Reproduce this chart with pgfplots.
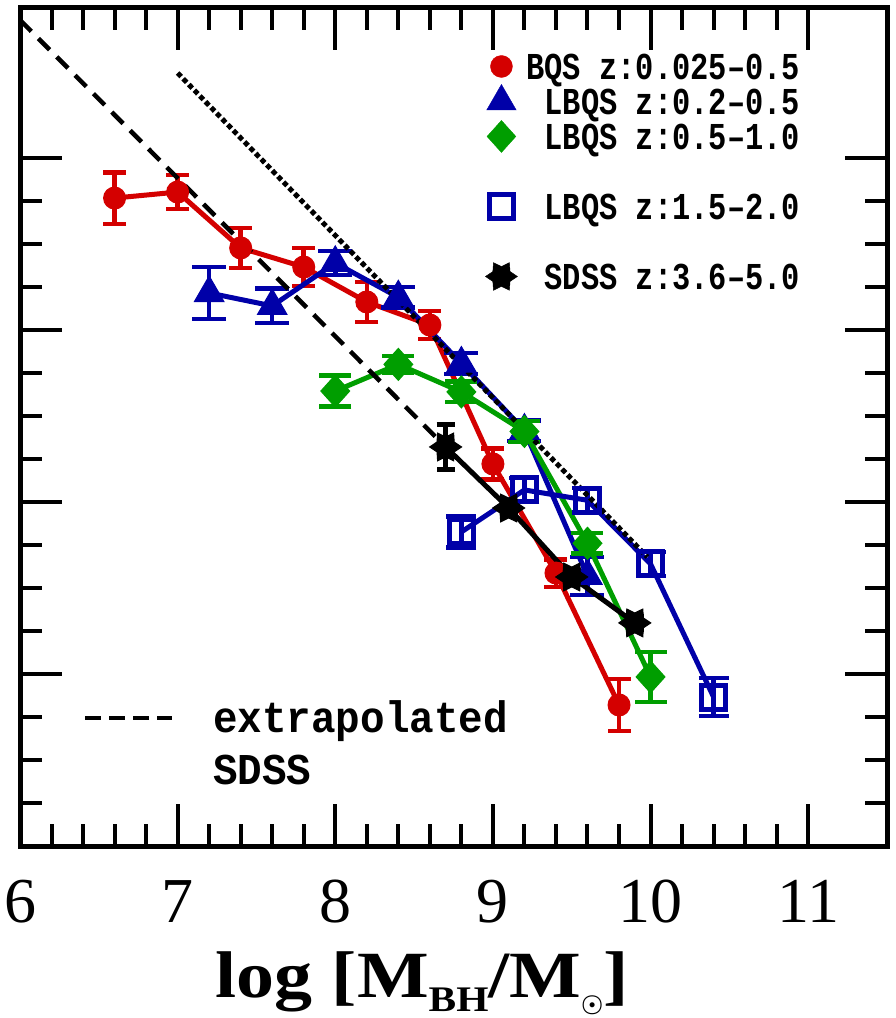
\documentclass[border=0pt]{standalone}
\usepackage{fontspec}
\setmainfont{Liberation Serif}
\newfontfamily\legfont[FakeStretch=0.8]{Liberation Mono}
\newfontfamily\extfont[FakeStretch=0.93]{Liberation Mono}
\newfontfamily\labfont[FakeStretch=1.15]{Liberation Serif}
\usepackage{pgfplots}
\pgfplotsset{compat=1.18}
\usetikzlibrary{plotmarks}

\definecolor{cred}{RGB}{212,0,0}
\definecolor{cblue}{RGB}{0,0,168}
\definecolor{cgreen}{RGB}{0,158,0}

\pgfdeclareplotmark{sixstar}{%
 \pgfpathmoveto{\pgfpointpolar{0}{\pgfplotmarksize}}%
 \pgfpathlineto{\pgfpointpolar{30}{0.62\pgfplotmarksize}}%
 \pgfpathlineto{\pgfpointpolar{60}{\pgfplotmarksize}}%
 \pgfpathlineto{\pgfpointpolar{90}{0.62\pgfplotmarksize}}%
 \pgfpathlineto{\pgfpointpolar{120}{\pgfplotmarksize}}%
 \pgfpathlineto{\pgfpointpolar{150}{0.62\pgfplotmarksize}}%
 \pgfpathlineto{\pgfpointpolar{180}{\pgfplotmarksize}}%
 \pgfpathlineto{\pgfpointpolar{210}{0.62\pgfplotmarksize}}%
 \pgfpathlineto{\pgfpointpolar{240}{\pgfplotmarksize}}%
 \pgfpathlineto{\pgfpointpolar{270}{0.62\pgfplotmarksize}}%
 \pgfpathlineto{\pgfpointpolar{300}{\pgfplotmarksize}}%
 \pgfpathlineto{\pgfpointpolar{330}{0.62\pgfplotmarksize}}%
 \pgfpathclose
 \pgfusepathqfillstroke}

\pgfplotsset{legmark/.style={only marks, legend image code/.code={%
  \begin{pgfinterruptboundingbox}\draw[##1] plot coordinates {(0pt,7pt)};\end{pgfinterruptboundingbox}%
  \pgfpathrectangle{\pgfqpoint{-16pt}{6pt}}{\pgfqpoint{32pt}{2pt}}\pgfusepath{use as bounding box}}}}

\begin{document}
\begin{tikzpicture}
\begin{axis}[
 scale only axis, width=867pt, height=838pt,
 xmin=6, xmax=11.5, ymin=-10, ymax=-5.128,
 xtick={6,7,8,9,10,11}, minor x tick num=4,
 ytick={-10,-9,-8,-7,-6}, minor y tick num=3,
 yticklabels={},
 xtick pos=both, ytick pos=both, tick align=inside,
 major tick length=42pt, minor tick length=22pt,
 tick style={line width=4pt, black},
 axis line style={line width=5pt},
 /pgf/number format/assume math mode=true,
 xticklabel style={font=\fontsize{64}{64}\selectfont, inner sep=0pt, yshift=-34pt},
 xlabel={\bfseries log [M\raisebox{-0.22em}{\fontsize{36}{36}\selectfont BH}/M\raisebox{-0.22em}{\fontsize{36}{36}\selectfont\boldmath$\odot$}]},
 xlabel style={font=\labfont\fontsize{66}{66}\selectfont, at={(axis description cs:0.464,0)}, anchor=base, yshift=-151pt, inner sep=0pt},
 legend style={at={(axis description cs:0.9,0.943)}, anchor=north east,
   draw=none, fill=none, font=\legfont\bfseries\fontsize{38}{38}\selectfont,
   row sep=0pt, column sep=9pt, inner sep=0pt,
   nodes={inner sep=0pt, text height=24pt, text depth=11pt}},
 legend cell align=right,
]
% BQS
\addplot[cred, line width=5pt, mark=*, mark size=11pt, mark options={solid, line width=1pt}, forget plot,
 error bars/.cd, y dir=both, y explicit, error bar style={line width=4.5pt}, error mark=-, error mark options={rotate=90, line width=4.5pt, mark size=11.5pt}]
 coordinates {
 (6.6,-6.233) +- (0,0.15)
 (7.0,-6.198) +- (0,0.10)
 (7.4,-6.523) +- (0,0.117)
 (7.8,-6.634) +- (0,0.11)
 (8.2,-6.837) +- (0,0.116)
 (8.6,-6.971) +- (0,0.08)
 (9.0,-7.779) +- (0,0.09)
 (9.4,-8.413) +- (0,0.08)
 (9.8,-9.180) +- (0,0.15)
 };
% LBQS 0.2-0.5
\addplot[cblue, line width=5pt, mark=triangle*, mark size=17pt, mark options={solid, line width=1pt}, forget plot,
 error bars/.cd, y dir=both, y explicit, error bar style={line width=4.5pt}, error mark=-, error mark options={rotate=90, line width=4.5pt, mark size=17pt}]
 coordinates {
 (7.2,-6.785) +- (0,0.15)
 (7.6,-6.86) +- (0,0.10)
 (8.0,-6.61) +- (0,0.07)
 (8.4,-6.81) +- (0,0.06)
 (8.8,-7.195) +- (0,0.06)
 (9.2,-7.585) +- (0,0.06)
 (9.6,-8.43) +- (0,0.11)
 };
% LBQS 0.5-1.0
\addplot[cgreen, line width=5pt, mark=diamond*, mark size=16pt, mark options={solid, line width=1pt, xscale=1.2}, forget plot,
 error bars/.cd, y dir=both, y explicit, error bar style={line width=4.5pt}, error mark=-, error mark options={rotate=90, line width=4.5pt, mark size=16pt}]
 coordinates {
 (8.0,-7.355) +- (0,0.09)
 (8.4,-7.20) +- (0,0.05)
 (8.8,-7.36) +- (0,0.06)
 (9.2,-7.59) +- (0,0.06)
 (9.6,-8.24) +- (0,0.06)
 (10.0,-9.017) +- (0,0.145)
 };
% LBQS 1.5-2.0
\addplot[cblue, line width=5pt, mark=square, mark size=12pt, mark options={solid, line width=5pt}, forget plot,
 error bars/.cd, y dir=both, y explicit, error bar style={line width=4.5pt}, error mark=-, error mark options={rotate=90, line width=4.5pt, mark size=15pt}]
 coordinates {
 (8.8,-8.174) +- (0,0.09)
 (9.2,-7.93) +- (0,0.07)
 (9.6,-7.99) +- (0,0.07)
 (10.0,-8.36) +- (0,0.07)
 (10.4,-9.134) +- (0,0.11)
 };
% SDSS
\addplot[black, line width=5pt, mark=sixstar, mark size=16pt, mark options={solid, line width=1pt}, forget plot,
 error bars/.cd, y dir=both, y explicit, error bar style={line width=4.5pt}, error mark=-, error mark options={rotate=90, line width=4.5pt, mark size=9pt}]
 coordinates {
 (8.7,-7.68) +- (0,0.13)
 (9.1,-8.035) +- (0,0.04)
 (9.5,-8.436) +- (0,0.04)
 (9.9,-8.703) +- (0,0.04)
 };
% extrapolated SDSS
\addplot[black, line width=4.5pt, dash pattern=on 16pt off 10pt, forget plot] coordinates {(6.0,-5.198) (8.7,-7.68)};
% dotted line
\addplot[black, line width=5pt, dash pattern=on 5pt off 3pt, forget plot] coordinates {(7.0,-5.506) (9.98,-8.32)};

\addlegendimage{legmark, mark=*, cred, mark size=11pt}
\addlegendentry{BQS z:0.025\textendash0.5}
\addlegendimage{legmark, mark=triangle*, cblue, mark size=17pt}
\addlegendentry{LBQS z:0.2\textendash0.5}
\addlegendimage{legmark, mark=diamond*, cgreen, mark size=16pt, mark options={xscale=1.2}}
\addlegendentry{LBQS z:0.5\textendash1.0}
\addlegendimage{empty legend}
\addlegendentry{}
\addlegendimage{legmark, mark=square, cblue, mark size=12pt, mark options={line width=5pt}}
\addlegendentry{LBQS z:1.5\textendash2.0}
\addlegendimage{empty legend}
\addlegendentry{}
\addlegendimage{legmark, mark=sixstar, black, mark size=16pt}
\addlegendentry{SDSS z:3.6\textendash5.0}

\draw[black, line width=4.5pt, dash pattern=on 16pt off 8pt] (axis description cs:0.075,0.1527) -- (axis description cs:0.175,0.1527);
\node[anchor=base west, inner sep=0pt, font=\extfont\bfseries\fontsize{44}{44}\selectfont] at (axis description cs:0.2226,0.136) {extrapolated};
\node[anchor=base west, inner sep=0pt, font=\extfont\bfseries\fontsize{44}{44}\selectfont] at (axis description cs:0.2226,0.0728) {SDSS};

\coordinate (SW) at (rel axis cs:0,0);
\coordinate (NE) at (rel axis cs:1,1);
\end{axis}
\pgfresetboundingbox
\path ([shift={(-20pt,-172pt)}]SW) rectangle ([shift={(9pt,8pt)}]NE);
\end{tikzpicture}
\end{document}
